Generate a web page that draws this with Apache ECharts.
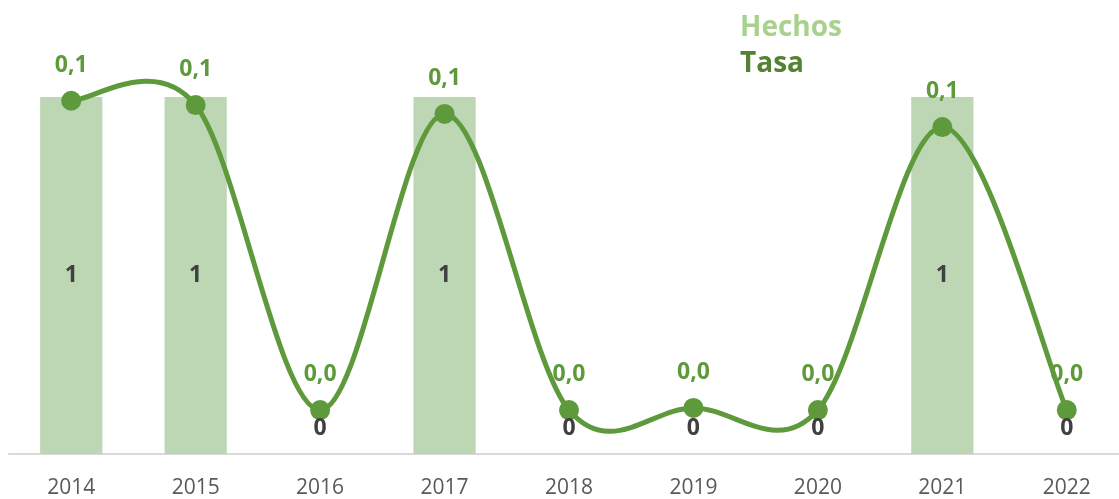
<!DOCTYPE html>
<html>
<head>
<meta charset="utf-8">
<script src="https://cdn.jsdelivr.net/npm/echarts@6/dist/echarts.min.js"></script>
<style>
  html, body { margin: 0; padding: 0; background: #ffffff; overflow: hidden; }
  #chart { width: 1129px; height: 499px; }
</style>
</head>
<body>
<div id="chart"></div>
<script>
// Years on the category axis
const years = ['2014', '2015', '2016', '2017', '2018', '2019', '2020', '2021', '2022'];
// Number of events per year (bars)
const hechos = [1, 1, 0, 1, 0, 0, 0, 1, 0];
// Rate per year (smoothed line, secondary axis)
const tasa = [0.141, 0.139, 0.0, 0.135, 0.0, 0.001, 0.0, 0.129, 0.0];

const BAR_COLOR = '#bdd7b5';
const LINE_COLOR = '#5e9a3c';
const LEGEND_LIGHT = '#a9d18e';
const LEGEND_DARK = '#548235';
const FONT = '"Open Sans", "Noto Sans", sans-serif';

const chart = echarts.init(document.getElementById('chart'), null, { renderer: 'canvas' });

// Count labels sit on a transparent copy of the bars drawn above the line
const barLabelData = hechos.map(v => {
  const item = { value: v };
  if (v === 0) {
    // zero-height bars: keep the count label just above the baseline
    item.label = { offset: [0, -26] };
  }
  return item;
});

// Catmull-Rom style smoothing (passes through every point, may overshoot between them)
function renderCurveSegment(params, api) {
  const i = params.dataIndex;
  const n = tasa.length;
  if (i >= n - 1) return null;
  const clampIdx = j => Math.max(0, Math.min(n - 1, j));
  const pt = j => api.coord([clampIdx(j), tasa[clampIdx(j)]]);
  const p0 = pt(i - 1), p1 = pt(i), p2 = pt(i + 1), p3 = pt(i + 2);
  const k = 1 / 6;
  return {
    type: 'bezierCurve',
    shape: {
      x1: p1[0], y1: p1[1],
      cpx1: p1[0] + (p2[0] - p0[0]) * k, cpy1: p1[1] + (p2[1] - p0[1]) * k,
      cpx2: p2[0] - (p3[0] - p1[0]) * k, cpy2: p2[1] - (p3[1] - p1[1]) * k,
      x2: p2[0], y2: p2[1]
    },
    style: { stroke: LINE_COLOR, lineWidth: 5, fill: null, lineCap: 'round' },
    silent: true
  };
}

chart.setOption({
  animation: false,
  backgroundColor: '#ffffff',
  textStyle: { fontFamily: FONT },
  legend: {
    orient: 'vertical',
    left: 735,
    top: 9,
    itemWidth: 0,
    itemHeight: 0,
    itemGap: 8,
    icon: 'none',
    selectedMode: false,
    data: [
      { name: 'Hechos', textStyle: { color: LEGEND_LIGHT } },
      { name: 'Tasa', textStyle: { color: LEGEND_DARK } }
    ],
    textStyle: { fontSize: 28, fontWeight: 'bold', fontFamily: FONT, padding: [0, 0, 0, -5] }
  },
  grid: { left: 9, top: 97, right: 0, height: 358, containLabel: false },
  xAxis: {
    type: 'category',
    data: years,
    axisLine: { show: true, lineStyle: { color: '#d9d9d9', width: 2 } },
    axisTick: { show: false },
    axisLabel: { color: '#595959', fontSize: 21, margin: 24, fontFamily: FONT }
  },
  yAxis: [
    { type: 'value', min: 0, max: 1, show: false, splitLine: { show: false } },
    { type: 'value', min: -0.02, max: 0.1427, show: false, splitLine: { show: false } }
  ],
  series: [
    {
      name: 'Hechos',
      type: 'bar',
      data: hechos,
      barWidth: '50%',
      itemStyle: { color: BAR_COLOR },
      z: 1
    },
    {
      name: 'Tasa',
      type: 'custom',
      yAxisIndex: 1,
      data: tasa.map((v, i) => [i, v]),
      encode: { x: 0, y: 1 },
      renderItem: renderCurveSegment,
      clip: false,
      z: 2
    },
    {
      name: 'Tasa',
      type: 'line',
      yAxisIndex: 1,
      data: tasa,
      symbol: 'circle',
      symbolSize: 20,
      lineStyle: { opacity: 0 },
      itemStyle: { color: LINE_COLOR },
      label: {
        show: true,
        position: 'top',
        distance: 14,
        color: LINE_COLOR,
        fontSize: 23,
        fontWeight: 'bold',
        fontFamily: FONT,
        formatter: p => p.value.toFixed(1).replace('.', ',')
      },
      z: 3
    },
    {
      name: 'Hechos',
      type: 'bar',
      data: barLabelData,
      barWidth: '50%',
      barGap: '-100%',
      itemStyle: { color: 'rgba(0,0,0,0)' },
      silent: true,
      label: {
        show: true,
        position: 'inside',
        color: '#404040',
        fontSize: 23,
        fontWeight: 'bold',
        fontFamily: FONT
      },
      z: 4
    }
  ]
});
</script>
</body>
</html>
